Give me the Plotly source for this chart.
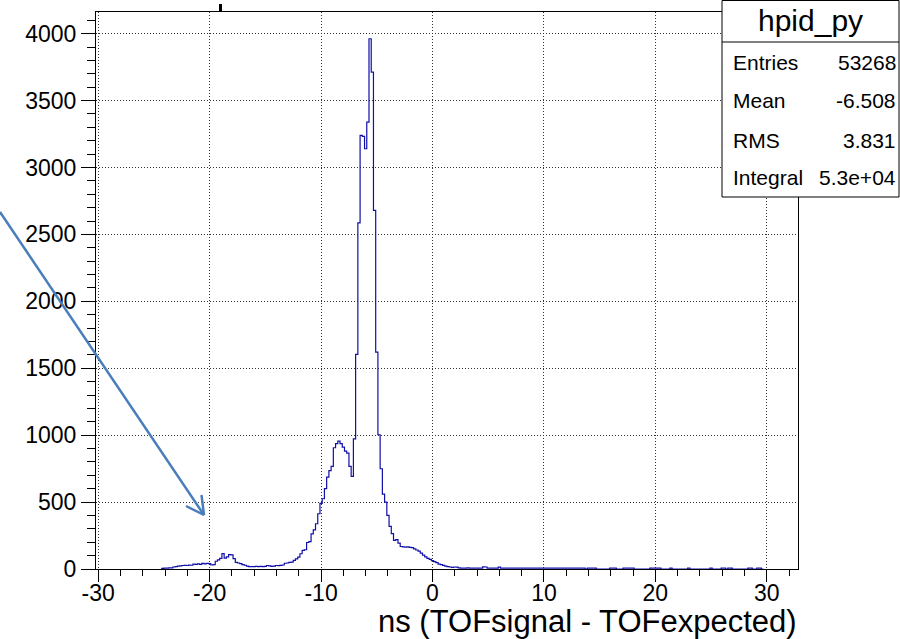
import numpy as np
import plotly.graph_objects as go

# ---- data (histogram hpid_py, bin width 0.2 ns, first bin starts at -24.3) ----
BIN_START = -24.3
BIN_WIDTH = 0.2

counts_left_tail = [  # -24.3 ... -16.1
    5, 6, 6, 8, 9, 15, 18, 22, 23, 26,
    27, 26, 29, 28, 36, 34, 38, 34, 42, 38,
    42, 40, 30, 32, 58, 68, 80, 115, 82, 90,
    108, 105, 78, 50, 45, 40, 32, 28, 22, 18,
    17, 17,
]
counts_rise = [  # -15.9 ... -7.1
    20, 18, 20, 17, 19, 26, 24, 19, 22, 26,
    25, 27, 30, 43, 45, 50, 52, 64, 76, 89,
    114, 139, 144, 198, 205, 263, 293, 338, 413, 490,
    525, 600, 687, 735, 767, 906, 937, 955, 937, 911,
    881, 866, 767, 692, 973,
]
counts_peak = [  # -6.9 ... -4.9
    1603, 2587, 3240, 3232, 3140, 3339, 3962, 3713, 2679, 1621, 1003,
]
counts_fall = [  # -4.7 ... 2.5
    749, 560, 500, 400, 318, 264, 214, 219, 194, 168,
    165, 163, 166, 162, 160, 150, 142, 133, 118, 104,
    90, 80, 72, 62, 55, 48, 36, 33, 27, 22,
    18, 15, 12, 15, 14, 9, 7,
]
counts_right_tail = [  # 2.7 ... 13.5
    6, 7, 8, 6, 7, 6, 7, 6, 7, 16,
    15, 7, 6, 7, 6, 7, 14, 7, 6, 7,
    6, 7, 6, 7, 7, 6, 7, 6, 7, 7,
    6, 7, 7, 6, 7, 6, 7, 7, 6, 7,
    6, 7, 7, 6, 7, 6, 7, 6, 7, 6,
    7, 6, 7, 6, 7,
]
counts_sparse = [  # 13.7 ... 29.5
    0, 7, 7, 6, 7, 0, 0, 0, 0, 0,
    0, 7, 7, 6, 0, 0, 0, 7, 7, 6,
    7, 7, 0, 0, 0, 0, 0, 0, 0, 7,
    7, 6, 7, 7, 0, 0, 0, 0, 7, 0,
    0, 0, 0, 0, 0, 0, 7, 0, 0, 0,
    0, 0, 0, 0, 0, 0, 7, 0, 0, 0,
    0, 7, 7, 0, 7, 7, 0, 0, 0, 0,
    0, 0, 0, 7, 7, 0, 0, 7, 7, 0,
]

x_tick_vals = [-30, -20, -10, 0, 10, 20, 30]
x_tick_text = ["-30", "-20", "-10", "0", "10", "20", "30"]
y_tick_vals = [0, 500, 1000, 1500, 2000, 2500, 3000, 3500, 4000]
y_tick_text = ["0", "500", "1000", "1500", "2000", "2500", "3000", "3500", "4000"]

stats_title = "hpid_py"
stats_labels = ["Entries", "Mean", "RMS", "Integral"]
stats_values = ["53268", "-6.508", "3.831", "5.3e+04"]
x_title = "ns (TOFsignal - TOFexpected)"

# ---- build step outline ----
counts = (counts_left_tail + counts_rise + counts_peak + counts_fall
          + counts_right_tail + counts_sparse)
n = len(counts)
edges = BIN_START + BIN_WIDTH * np.arange(n + 1)
xs = np.concatenate([[edges[0]], edges[:-1], [edges[-1]]])
ys = np.concatenate([[0], counts, [0]])

FONT = "Liberation Sans, Arial, Helvetica, sans-serif"
W, H = 900, 639
ML, MR, MT, MB = 96, 102, 12, 70
PW, PH = W - ML - MR, H - MT - MB


def px(xp):
    return (xp - ML) / PW


def py(yp):
    return (H - MB - yp) / PH


fig = go.Figure()
fig.add_trace(go.Scatter(
    x=xs, y=ys, mode="lines", line=dict(shape="hv", color="#1010a8", width=1.2),
    hoverinfo="skip", showlegend=False,
))

axis_common = dict(
    showline=True, linecolor="black", linewidth=1, mirror=True,
    ticks="outside", tickcolor="black", tickwidth=1,
    showgrid=True, gridcolor="#333333", gridwidth=1, griddash="1px,2px",
    zeroline=False, tickfont=dict(family=FONT, size=23, color="black"),
)

fig.update_layout(
    width=W, height=H,
    margin=dict(l=ML, r=MR, t=MT, b=MB, pad=0),
    paper_bgcolor="white", plot_bgcolor="white",
    showlegend=False,
    xaxis=dict(range=[-30.2, 32.8], tickvals=x_tick_vals, ticktext=x_tick_text,
               ticklen=12, ticklabelstandoff=-9,
               minor=dict(dtick=2, tick0=0, ticks="outside", ticklen=6,
                          tickcolor="black", showgrid=False),
               **axis_common),
    yaxis=dict(range=[0, 4162], tickvals=y_tick_vals, ticktext=y_tick_text,
               ticklen=14,
               minor=dict(dtick=100, tick0=0, ticks="outside", ticklen=8,
                          tickcolor="black", showgrid=False),
               **axis_common),
)

shapes = []
# stats box
shapes.append(dict(type="rect", xref="paper", yref="paper",
                   x0=px(722), x1=px(899), y0=py(197), y1=py(0.5),
                   line=dict(color="black", width=1), fillcolor="white", layer="above"))
shapes.append(dict(type="line", xref="paper", yref="paper",
                   x0=px(722), x1=px(899), y0=py(42), y1=py(42),
                   line=dict(color="black", width=1), layer="above"))
# small black mark at top
shapes.append(dict(type="rect", xref="paper", yref="paper",
                   x0=px(219), x1=px(222), y0=py(12), y1=py(4),
                   line=dict(width=0), fillcolor="black", layer="above"))
# blue arrow
arrow_col = "#4a7ebb"
tip = (204, 515)
for (a, b) in [((0, 212), tip), ((201.5, 495), tip), ((186, 506), tip)]:
    shapes.append(dict(type="line", xref="paper", yref="paper",
                       x0=px(a[0]), y0=py(a[1]), x1=px(b[0]), y1=py(b[1]),
                       line=dict(color=arrow_col, width=2.5), layer="above"))
fig.update_layout(shapes=shapes)

ann = []
ann.append(dict(text=stats_title, xref="paper", yref="paper", x=px(810), y=py(21),
                xanchor="center", yanchor="middle", showarrow=False,
                font=dict(family=FONT, size=30, color="black")))
row_y = [62, 101, 140, 178]
for lab, val, ry in zip(stats_labels, stats_values, row_y):
    ann.append(dict(text=lab, xref="paper", yref="paper", x=px(731), y=py(ry),
                    xanchor="left", yanchor="middle", showarrow=False,
                    font=dict(family=FONT, size=21, color="black")))
    ann.append(dict(text=val, xref="paper", yref="paper", x=px(898), y=py(ry),
                    xanchor="right", yanchor="middle", showarrow=False,
                    font=dict(family=FONT, size=21, color="black")))
ann.append(dict(text=x_title, xref="paper", yref="paper", x=px(799), y=py(621),
                xanchor="right", yanchor="middle", showarrow=False,
                font=dict(family=FONT, size=31, color="black")))
fig.update_layout(annotations=ann)

fig.write_html("out.html")
